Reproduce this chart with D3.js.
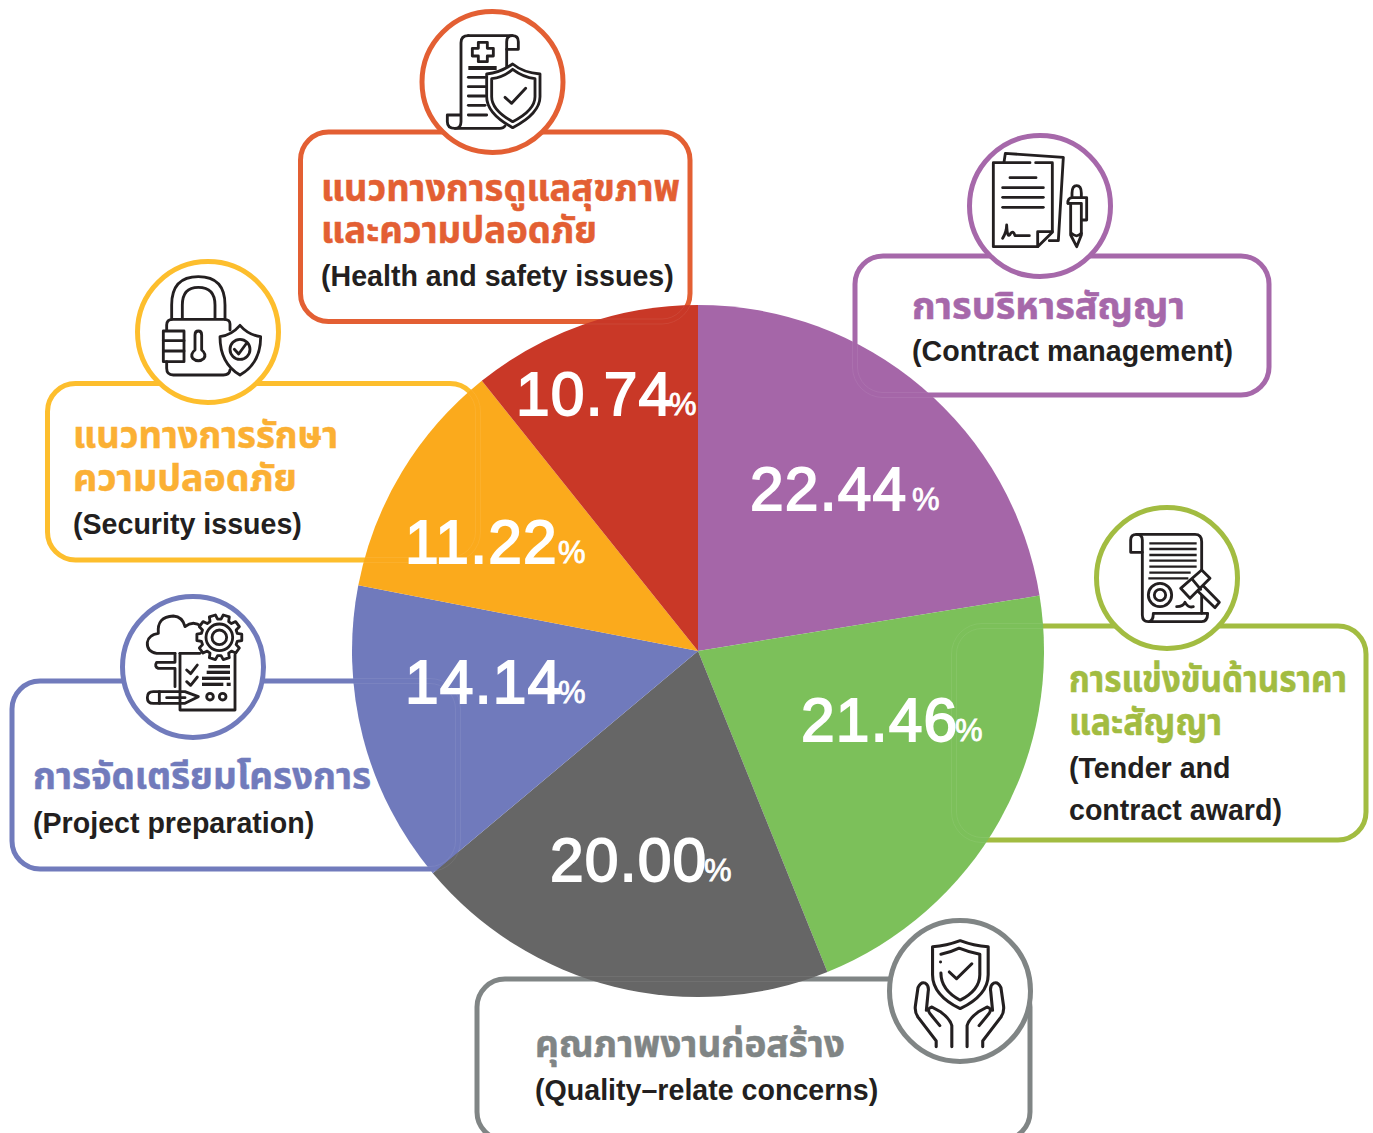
<!DOCTYPE html>
<html lang="th">
<head>
<meta charset="UTF-8">
<title>Risk factors pie</title>
<script src="https://d3js.org/d3.v7.min.js"></script>
<style>
    html, body { margin: 0; padding: 0; background: #fff; }
    svg { display: block; }
    .thai { font-family: "Noto Sans Thai", "Noto Sans Thai Looped", "Noto Sans", "Liberation Sans", sans-serif; font-weight: 700; }
    .eng { font-family: "Liberation Sans", Arial, sans-serif; font-weight: 700; font-size: 28.6px; fill: #231f20; }
    .pct { font-family: "Liberation Sans", Arial, sans-serif; fill: #fff; stroke: #fff; }
    .ico { fill: none; stroke: #231f20; stroke-width: 8.5; stroke-linejoin: round; stroke-linecap: round; }
</style>
</head>
<body>
<svg id="chart" width="1373" height="1133"></svg>
<script>
// data, clockwise from 12 o'clock
var categories = ['Contract management', 'Tender and contract award', 'Quality-relate concerns', 'Project preparation', 'Security issues', 'Health and safety issues'];
var values = [22.44, 21.46, 20.00, 14.14, 11.22, 10.74];
var thaiTitles = [
    ['การบริหารสัญญา'],
    ['การแข่งขันด้านราคา', 'และสัญญา'],
    ['คุณภาพงานก่อสร้าง'],
    ['การจัดเตรียมโครงการ'],
    ['แนวทางการรักษา', 'ความปลอดภัย'],
    ['แนวทางการดูแลสุขภาพ', 'และความปลอดภัย']
];
var engLines = [
    ['(Contract management)'],
    ['(Tender and', 'contract award)'],
    ['(Quality\u2013relate concerns)'],
    ['(Project preparation)'],
    ['(Security issues)'],
    ['(Health and safety issues)']
];

// styling / layout, same order as the data
var sliceColors = ['#a566a8', '#7cc05a', '#666666', '#707abc', '#fbaa1c', '#c93827'];
var boxColors = ['#a668aa', '#a2bc41', '#808585', '#717bbc', '#fdbe2d', '#e35f33'];
var titleColors = ['#a668aa', '#a2bc41', '#808585', '#717bbc', '#fbb034', '#e35f33'];
var boxes = [
    {x0: 855, y0: 256, x1: 1269, y1: 395, cx: 1040, cy: 206, tx: 912, ty: [319, 361], tw: [273]},
    {x0: 954, y0: 626, x1: 1366, y1: 840, cx: 1167, cy: 578, tx: 1069, ty: [692, 735, 778, 820], tw: [278, 153]},
    {x0: 477, y0: 979, x1: 1030, y1: 1140, cx: 960, cy: 991, tx: 535, ty: [1057, 1100], tw: [310]},
    {x0: 12, y0: 681, x1: 458, y1: 869, cx: 193, cy: 667, tx: 33, ty: [789, 833], tw: [338]},
    {x0: 47.5, y0: 383.5, x1: 478, y1: 560, cx: 208, cy: 332, tx: 73, ty: [448, 491, 534], tw: [265, 224]},
    {x0: 300.5, y0: 132, x1: 690, y1: 321.5, cx: 492.5, cy: 82, tx: 321, ty: [201, 243, 286], tw: [359, 276]}
];
var pctLabels = [
    {x: 750, y: 510, px: 912},
    {x: 801, y: 741, px: 955},
    {x: 550, y: 881, px: 704},
    {x: 405, y: 703, px: 558},
    {x: 405, y: 563, px: 558},
    {x: 516, y: 415, px: 669}
];

var svg = d3.select('#chart');
var cx = 698, cy = 651, radius = 346;

var pie = d3.pie().sort(null).value(d => d);
var arc = d3.arc().innerRadius(0).outerRadius(radius);

function roundBox(sel, b, r) {
    return sel.append('rect')
        .attr('x', b.x0).attr('y', b.y0)
        .attr('width', b.x1 - b.x0).attr('height', b.y1 - b.y0)
        .attr('rx', r).attr('ry', r);
}

// boxes sit under the pie
boxes.forEach(function (b, i) {
    roundBox(svg, b, 28).attr('fill', '#fff').attr('stroke', boxColors[i]).attr('stroke-width', 5);
});

// pie
var pieG = svg.append('g').attr('transform', 'translate(' + cx + ',' + cy + ')');
pieG.selectAll('path')
    .data(pie(values))
    .enter()
    .append('path')
    .attr('d', arc)
    .attr('fill', (d, i) => sliceColors[i]);

// faint ghost of the box edges on top of the pie
svg.append('clipPath').attr('id', 'pieClip')
    .append('circle').attr('cx', cx).attr('cy', cy).attr('r', radius);
var ghost = svg.append('g').attr('clip-path', 'url(#pieClip)')
    .attr('fill', 'none').attr('stroke', '#fff').attr('stroke-opacity', 0.09).attr('stroke-width', 0.8);
boxes.forEach(function (b) {
    [-2.5, 2.5].forEach(function (o) {
        roundBox(ghost, {x0: b.x0 + o, y0: b.y0 + o, x1: b.x1 - o, y1: b.y1 - o}, 28 - o);
    });
});

// percent labels
pctLabels.forEach(function (p, i) {
    svg.append('text').attr('class', 'pct').attr('x', p.x).attr('y', p.y)
        .attr('font-size', 60.5).attr('stroke-width', 1.8).attr('letter-spacing', 1.2)
        .text(values[i].toFixed(2));
    svg.append('text').attr('class', 'pct').attr('x', p.px).attr('y', p.y)
        .attr('font-size', 31).attr('stroke-width', 0.8)
        .text('%');
});

// box text
boxes.forEach(function (b, i) {
    var lineNo = 0;
    thaiTitles[i].forEach(function (t, j) {
        svg.append('text').attr('class', 'thai').attr('x', b.tx).attr('y', b.ty[lineNo++])
            .attr('font-size', 37).attr('fill', titleColors[i])
            .attr('stroke', titleColors[i]).attr('stroke-width', 0.5)
            .attr('textLength', b.tw[j]).attr('lengthAdjust', 'spacingAndGlyphs')
            .text(t);
    });
    engLines[i].forEach(function (t) {
        svg.append('text').attr('class', 'eng').attr('x', b.tx).attr('y', b.ty[lineNo++]).text(t);
    });
});

// icon circles on top of everything else
boxes.forEach(function (b, i) {
    svg.append('circle').attr('cx', b.cx).attr('cy', b.cy).attr('r', 70.5)
        .attr('fill', '#fff').attr('stroke', boxColors[i]).attr('stroke-width', 5);
});

// icons, drawn in 3x units
function iconGroup(ox, oy, sx, sy) {
    return svg.append('g').attr('class', 'ico')
        .attr('transform', 'translate(' + ox + ',' + oy + ') scale(' + (sx || 1 / 3) + ',' + (sy || 1 / 3) + ')');
}
function paths(g, list) {
    list.forEach(d => g.append('path').attr('d', d));
}
function thick(g, list, w) {
    list.forEach(d => g.append('path').attr('d', d).attr('stroke-width', w).attr('stroke-linecap', 'butt'));
}

// contract
var g0 = iconGroup(850, 125);
paths(g0, [
    'M462 112 L466 85 L640 97 L625 347 H598',
    'M540 113 H430 V365 H563 L607 322 V113 H557',
    'M563 365 V320 H607',
    'M480 158 H558', 'M458 188 H580', 'M458 217 H580', 'M458 247 H580',
    'M458 340 Q470 320 470 300 Q472 345 482 325 Q490 315 495 332 H538',
    'M666 215 V205 Q666 182 680 182 Q694 182 694 205 V215',
    'M654 235 Q652 218 668 218 H710 V285 H695',
    'M662 235 V330 L680 365 L694 330 V235 H654',
    'M664 325 Q680 340 694 325'
]);

// tender
var g1 = iconGroup(940, 495);
paths(g1, [
    'M590 118 H765 Q785 118 785 140 V225',
    'M572 172 V135 Q572 118 590 118 Q607 118 607 135 V172 H572',
    'M607 172 V360 Q607 380 625 380 H785 Q803 380 803 355 H640 Q640 380 625 380',
    'M785 300 V355',
    'M710 335 Q730 335 735 322 Q745 340 760 335'
]);
thick(g1, ['M628 145 H770', 'M628 162 H770', 'M628 180 H770', 'M628 197 H770', 'M628 215 H770', 'M628 233 H752', 'M625 250 H745'], 7);
// gavel goes over the scroll edge
g1.append('path').attr('d', 'M785 268 L838 322 L825 338 L770 285').attr('fill', '#fff');
g1.append('path').attr('d', 'M785 225 L810 250 L750 310 L722 280 Z').attr('fill', '#fff');
g1.append('path').attr('d', 'M757 253 L782 283');
g1.append('circle').attr('cx', 660).attr('cy', 300).attr('r', 35);
g1.append('circle').attr('cx', 660).attr('cy', 300).attr('r', 17);

// quality
var g2 = iconGroup(470, 910, 1 / 2.75, 1 / 2.94).attr('stroke-width', 10);
paths(g2, [
    'M1348 90 Q1310 105 1272 108 V190 Q1272 250 1348 290 Q1425 250 1425 190 V108 Q1385 105 1348 90Z',
    'M1295 130 Q1320 125 1345 112 Q1375 125 1402 130 V190 Q1402 235 1348 265 Q1295 235 1295 185',
    'M1294 153 V153',
    'M1318 182 L1338 202 L1380 158'
]);
var hand = [
    'M1282 402 V385 L1232 315 Q1222 300 1225 280 L1232 228 Q1240 210 1252 215 Q1263 222 1260 240 L1255 295',
    'M1325 402 V340 Q1320 320 1295 300 L1270 285 Q1255 290 1265 305 L1292 340'
];
paths(g2, hand);
paths(g2.append('g').attr('transform', 'translate(2692,0) scale(-1,1)'), hand);

// project
var g3 = iconGroup(0, 585);
paths(g3, [
    'M525 205 H470 Q440 200 442 172 Q445 150 475 145 Q470 95 520 93 Q548 95 555 125 Q580 105 605 125',
    'M540 205 V375 H705 V210', 'M540 205 H600',
    'M525 205 V232 H470 Q462 245 475 250 H525 V305',
    'M595 335 L555 320 H460 Q442 320 442 338 Q442 355 460 355 H555 Z',
    'M478 320 V355', 'M500 338 H555',
    'M560 255 L572 266 L592 240', 'M560 290 L572 301 L592 276'
]);
thick(g3, ['M625 245 H690', 'M620 262 H690', 'M606 280 H690', 'M606 298 H670', 'M680 298 H692'], 10);
g3.append('circle').attr('cx', 630).attr('cy', 335).attr('r', 10);
g3.append('circle').attr('cx', 668).attr('cy', 335).attr('r', 10);
// gear
var gearPts = [];
for (var k = 0; k < 10; k++) {
    var a0 = k / 10 * 2 * Math.PI;
    [[-0.22, 55], [-0.14, 68], [0.14, 68], [0.22, 55]].forEach(function (s) {
        gearPts.push([658 + s[1] * Math.cos(a0 + s[0]), 157 + s[1] * Math.sin(a0 + s[0])]);
    });
}
g3.append('path').attr('d', d3.line()(gearPts) + 'Z').attr('fill', '#fff');
g3.append('circle').attr('cx', 658).attr('cy', 157).attr('r', 40);
g3.append('circle').attr('cx', 658).attr('cy', 157).attr('r', 22);

// security
var g4 = iconGroup(0, 250);
paths(g4, [
    'M515 208 V165 Q515 80 595 80 Q675 80 675 165 V208',
    'M547 205 V165 Q547 112 595 112 Q645 112 645 165 V205',
    'M690 240 V222 Q690 208 672 208 H518 Q500 208 500 225 V242',
    'M500 335 V355 Q500 375 520 375 H670 Q688 375 690 360',
    'M490 243 H552 V335 H490 Z', 'M490 272 H552', 'M490 303 H552',
    'M585 300 V255 Q585 243 595 243 Q605 243 605 255 V300 Q620 312 612 325 Q595 340 578 325 Q570 312 585 300Z',
    'M720 226 Q745 255 782 260 Q782 340 720 375 Q660 340 660 260 Q695 255 720 226Z',
    'M703 298 L716 312 L738 282'
]);
g4.append('circle').attr('cx', 720).attr('cy', 298).attr('r', 30);

// health
var g5 = iconGroup(290, 0);
paths(g5, [
    'M650 205 V125 Q650 107 667 107',
    'M535 107 H667 Q685 107 685 125 V148 H650',
    'M535 107 Q513 107 513 128 V365 Q513 385 495 385 Q472 385 472 365 V345 H510',
    'M495 385 H630 Q640 385 645 378',
    'M565 127 H592 V145 H610 V168 H592 V185 H565 V168 H547 V145 H565 Z',
    'M535 232 H585', 'M535 260 H585', 'M535 288 H585', 'M535 316 H585', 'M535 345 H590'
]);
thick(g5, ['M535 204 H620'], 12);
g5.append('path').attr('d', 'M668 192 Q700 218 750 222 V290 Q750 340 668 383 Q590 340 590 290 V222 Q630 218 668 192Z').attr('fill', '#fff');
paths(g5, [
    'M668 208 Q700 232 735 236 V290 Q735 330 668 365 Q605 330 605 290 V236 Q640 232 668 208Z',
    'M645 292 L665 310 L707 265'
]);
</script>
</body>
</html>
